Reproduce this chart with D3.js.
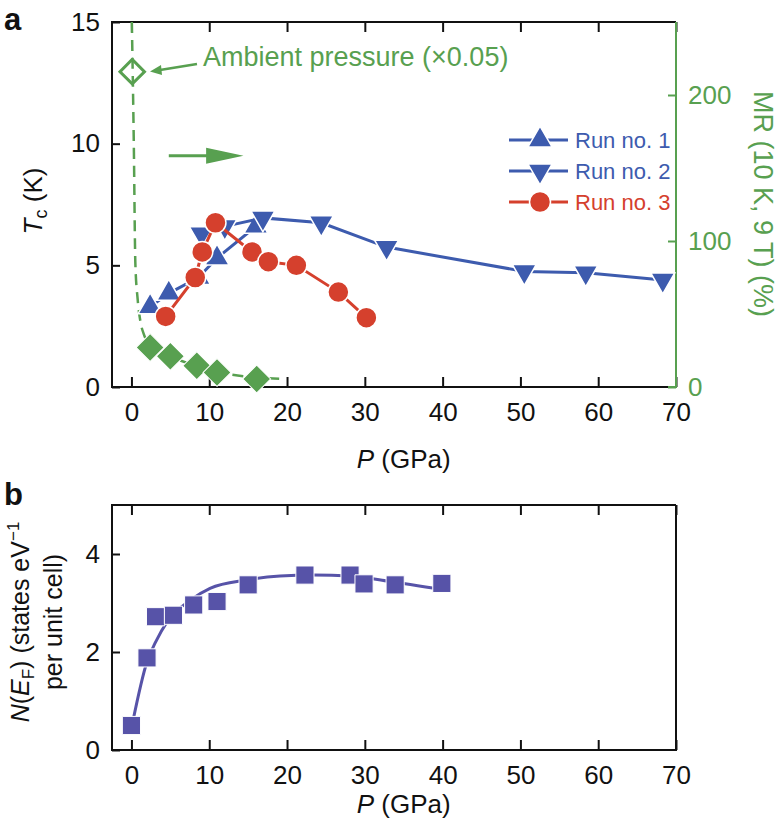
<!DOCTYPE html>
<html>
<head>
<meta charset="utf-8">
<script src="https://cdn.jsdelivr.net/npm/d3@7"></script>
<style>
  body { margin: 0; background: #fff; }
  svg text { font-family: "Liberation Sans", Arial, Helvetica, sans-serif; }
</style>
</head>
<body>
<svg id="fig" width="780" height="827"></svg>
<script>
// ---- data ----
const pressTicks = [0, 10, 20, 30, 40, 50, 60, 70];
const tcTicks = [0, 5, 10, 15];
const mrTicks = [0, 100, 200];
const nefTicks = [0, 2, 4];

const run1P = [2.4, 4.8, 8.6, 11.0, 16.0];
const run1Tc = [3.3, 3.85, 4.5, 5.3, 6.6];
const run2P = [9.0, 12.0, 16.9, 24.4, 32.8, 50.5, 58.4, 68.3];
const run2Tc = [6.3, 6.6, 6.95, 6.75, 5.75, 4.75, 4.7, 4.4];
const run3P = [4.4, 8.2, 9.1, 10.8, 15.5, 17.6, 21.2, 26.6, 30.2];
const run3Tc = [2.9, 4.5, 5.55, 6.75, 5.55, 5.15, 5.0, 3.9, 2.85];

const mrP = [2.4, 5.0, 8.4, 11.0, 16.1];
const mrVal = [27, 21, 14.5, 10, 5.5];
const mrFitP = [0.05, 0.3, 0.5, 0.8, 1.15, 1.6, 2.5, 5, 8, 11, 15, 19.5];
const mrFitVal = [250, 168, 85, 60, 45, 36, 28, 21, 15, 10.5, 7, 5.5];
const ambientP = [0.1];
const ambientMR = [216];

const nefP = [0, 2.0, 3.1, 5.4, 8.0, 11.0, 15.0, 22.3, 28.1, 29.9, 33.9, 39.9];
const nefVal = [0.5, 1.88, 2.72, 2.75, 2.96, 3.03, 3.37, 3.57, 3.57, 3.39, 3.37, 3.40];
const nefFitP = [0.15, 2.0, 3.1, 4.6, 7.6, 10.1, 14.8, 19.1, 23.4, 28.1, 32.8, 40.1];
const nefFitVal = [0.56, 1.8, 2.2, 2.62, 3.06, 3.3, 3.47, 3.55, 3.57, 3.55, 3.45, 3.27];

const runNames = ['Run no. 1', 'Run no. 2', 'Run no. 3'];

// ---- colours ----
const blue = '#3d5bae', red = '#d5402d', green = '#58a050', purple = '#5753a8';

const svg = d3.select('#fig');

const A = { left: 112, right: 676, top: 22, bottom: 387 };
const B = { left: 112, right: 676, top: 505, bottom: 750 };

const x = d3.scaleLinear().domain([-2.5, 70]).range([A.left, A.right]);
const yTc = d3.scaleLinear().domain([0, 15]).range([A.bottom, A.top]);
const yMR = d3.scaleLinear().domain([0, 250]).range([A.bottom, A.top]);
const yN = d3.scaleLinear().domain([0, 5]).range([B.bottom, B.top]);

const zip = (xs, ys) => xs.map((v, i) => ({ p: v, v: ys[i] }));

function styleAxis(g, color) {
  g.select('.domain').remove();
  g.selectAll('.tick line').attr('stroke', color).attr('stroke-width', 2);
  g.selectAll('.tick text').attr('fill', color).attr('font-size', 26);
}

function frameAxes(box, yScale, yTickVals, rightColor) {
  // bottom
  svg.append('g')
    .attr('transform', `translate(0,${box.bottom})`)
    .call(d3.axisBottom(x).tickValues(pressTicks).tickSizeInner(-10).tickSizeOuter(0).tickPadding(16))
    .call(g => styleAxis(g, '#111'));
  // top
  svg.append('g')
    .attr('transform', `translate(0,${box.top})`)
    .call(d3.axisTop(x).tickValues(pressTicks).tickSizeInner(-10).tickSizeOuter(0).tickFormat(''))
    .call(g => styleAxis(g, '#111'));
  // left
  svg.append('g')
    .attr('transform', `translate(${box.left},0)`)
    .call(d3.axisLeft(yScale).tickValues(yTickVals).tickFormat(d3.format('d'))
      .tickSizeInner(-8).tickSizeOuter(0).tickPadding(12))
    .call(g => styleAxis(g, '#111'));
  // frame
  const f = svg.append('g').attr('fill', 'none').attr('stroke-width', 2);
  f.append('path').attr('stroke', '#111')
    .attr('d', `M${box.right},${box.top}H${box.left}V${box.bottom}H${box.right - 8}`);
  f.append('path').attr('stroke', rightColor)
    .attr('d', `M${box.right - 8},${box.bottom}H${box.right}V${box.top}`);
}

// ================= panel a =================
frameAxes(A, yTc, tcTicks, green);

svg.append('g')
  .attr('transform', `translate(${A.right},0)`)
  .call(d3.axisRight(yMR).tickValues(mrTicks).tickSizeInner(-8).tickSizeOuter(0).tickPadding(12))
  .call(g => styleAxis(g, green));

// MR fit curve (dashed)
svg.append('path')
  .datum(zip(mrFitP, mrFitVal))
  .attr('fill', 'none')
  .attr('stroke', green)
  .attr('stroke-width', 2.5)
  .attr('stroke-dasharray', '11,7')
  .attr('d', d3.line().x(d => x(d.p)).y(d => yMR(d.v)).curve(d3.curveMonotoneX));

const square = d3.symbol().type(d3.symbolSquare);

// ambient pressure open diamond
svg.selectAll('.amb')
  .data(zip(ambientP, ambientMR))
  .join('path')
  .attr('class', 'amb')
  .attr('transform', d => `translate(${x(d.p)},${yMR(d.v)}) rotate(45)`)
  .attr('d', square.size(300)())
  .attr('fill', 'none')
  .attr('stroke', green)
  .attr('stroke-width', 3);

// MR filled diamonds
svg.selectAll('.mr')
  .data(zip(mrP, mrVal))
  .join('path')
  .attr('class', 'mr')
  .attr('transform', d => `translate(${x(d.p)},${yMR(d.v)}) rotate(45)`)
  .attr('d', square.size(390)())
  .attr('fill', green)
  .attr('stroke', '#fff')
  .attr('stroke-width', 1);

const tri = d3.symbol().type(d3.symbolTriangle).size(250)();
const runs = [
  { name: runNames[0], color: blue, data: zip(run1P, run1Tc), shape: 'up' },
  { name: runNames[1], color: blue, data: zip(run2P, run2Tc), shape: 'down' },
  { name: runNames[2], color: red, data: zip(run3P, run3Tc), shape: 'circle' }
];

function drawMarker(sel, shape, color) {
  if (shape === 'circle') {
    sel.append('circle').attr('r', 10.5);
  } else {
    sel.append('path').attr('d', tri)
      .attr('transform', shape === 'down' ? 'rotate(180)' : null);
  }
  sel.selectAll('circle, path').attr('fill', color).attr('stroke', '#fff').attr('stroke-width', 1.5);
}

runs.forEach(r => {
  svg.append('path')
    .datum(r.data)
    .attr('fill', 'none')
    .attr('stroke', r.color)
    .attr('stroke-width', 3)
    .attr('d', d3.line().x(d => x(d.p)).y(d => yTc(d.v)));
  svg.selectAll(null)
    .data(r.data)
    .join('g')
    .attr('transform', d => `translate(${x(d.p)},${yTc(d.v)})`)
    .each(function () { drawMarker(d3.select(this), r.shape, r.color); });
});

// legend
const leg = svg.append('g');
runs.forEach((r, i) => {
  const gy = 140 + i * 31;
  leg.append('line').attr('x1', 509).attr('x2', 568).attr('y1', gy).attr('y2', gy)
    .attr('stroke', r.color).attr('stroke-width', 3);
  const m = leg.append('g').attr('transform', `translate(540,${gy})`);
  drawMarker(m, r.shape, r.color);
  leg.append('text').attr('x', 575).attr('y', gy + 8)
    .attr('font-size', 22).attr('fill', r.color).text(r.name);
});

// arrow pointing to MR axis
const arrY = yTc(9.5);
svg.append('line')
  .attr('x1', x(4.8)).attr('x2', x(10)).attr('y1', arrY).attr('y2', arrY)
  .attr('stroke', green).attr('stroke-width', 3);
svg.append('path')
  .attr('d', `M${x(9.6)},${arrY - 8}L${x(14.4)},${arrY}L${x(9.6)},${arrY + 8}Z`)
  .attr('fill', green);

// ambient annotation
svg.append('text')
  .attr('x', 203).attr('y', 66)
  .attr('font-size', 27).attr('fill', green)
  .text('Ambient pressure (\u00d70.05)');
svg.append('line')
  .attr('x1', 197).attr('y1', 64).attr('x2', 160).attr('y2', 70)
  .attr('stroke', green).attr('stroke-width', 2.5);
svg.append('path')
  .attr('d', 'M150,71.5L161,65L162,75Z')
  .attr('fill', green);

// axis titles panel a
svg.append('text')
  .attr('transform', 'translate(42,201) rotate(-90)')
  .attr('text-anchor', 'middle').attr('font-size', 26).attr('fill', '#111')
  .call(t => {
    t.append('tspan').attr('font-style', 'italic').text('T');
    t.append('tspan').attr('font-size', 18).attr('dy', 5).text('c');
    t.append('tspan').attr('dy', -5).text(' (K)');
  });

svg.append('text')
  .attr('transform', 'translate(754,204) rotate(90)')
  .attr('text-anchor', 'middle').attr('font-size', 27).attr('fill', green)
  .text('MR (10 K, 9 T) (%)');

svg.append('text')
  .attr('x', x(35)).attr('y', 468)
  .attr('text-anchor', 'middle').attr('font-size', 26).attr('fill', '#111')
  .call(t => {
    t.append('tspan').attr('font-style', 'italic').text('P');
    t.append('tspan').text(' (GPa)');
  });

svg.append('text').attr('x', 4).attr('y', 30)
  .attr('font-size', 31).attr('font-weight', 'bold').attr('fill', '#111').text('a');

// ================= panel b =================
frameAxes(B, yN, nefTicks, '#111');

svg.append('path')
  .datum(zip(nefFitP, nefFitVal))
  .attr('fill', 'none')
  .attr('stroke', purple)
  .attr('stroke-width', 3)
  .attr('d', d3.line().x(d => x(d.p)).y(d => yN(d.v)).curve(d3.curveMonotoneX));

svg.selectAll('.nef')
  .data(zip(nefP, nefVal))
  .join('path')
  .attr('class', 'nef')
  .attr('transform', d => `translate(${x(d.p)},${yN(d.v)})`)
  .attr('d', square.size(330)())
  .attr('fill', purple)
  .attr('stroke', '#fff')
  .attr('stroke-width', 1);

svg.append('text')
  .attr('x', x(35)).attr('y', 813)
  .attr('text-anchor', 'middle').attr('font-size', 26).attr('fill', '#111')
  .call(t => {
    t.append('tspan').attr('font-style', 'italic').text('P');
    t.append('tspan').text(' (GPa)');
  });

const nt = svg.append('text')
  .attr('transform', 'translate(0,622) rotate(-90)')
  .attr('text-anchor', 'middle').attr('font-size', 25).attr('fill', '#111');
nt.append('tspan').attr('x', 0).attr('y', 29)
  .call(t => {
    t.append('tspan').attr('font-style', 'italic').text('N');
    t.append('tspan').text('(');
    t.append('tspan').attr('font-style', 'italic').text('E');
    t.append('tspan').attr('font-size', 17).attr('dy', 5).text('F');
    t.append('tspan').attr('dy', -5).text(') (states eV');
    t.append('tspan').attr('font-size', 17).attr('dy', -10).text('\u22121');
  });
nt.append('tspan').attr('x', 0).attr('y', 62).text('per unit cell)');

svg.append('text').attr('x', 4).attr('y', 505)
  .attr('font-size', 31).attr('font-weight', 'bold').attr('fill', '#111').text('b');
</script>
</body>
</html>
